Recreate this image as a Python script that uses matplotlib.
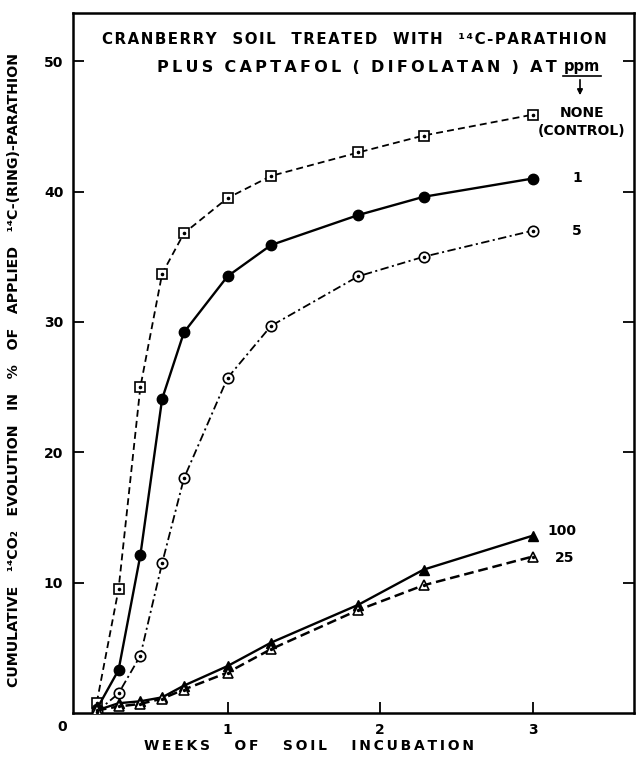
import matplotlib
matplotlib.use("Agg")
import matplotlib.pyplot as plt

plt.rcParams['lines.scale_dashes'] = False
plt.rcParams['font.family'] = ['DejaVu Sans']

# incubation times (weeks) = days / 7
days = [1, 2, 3, 4, 5, 7, 9, 13, 16, 21]
weeks = [d / 7 for d in days]

control = [0.8, 9.5, 25.0, 33.7, 36.8, 39.5, 41.2, 43.0, 44.3, 45.9]
ppm1 = [0.3, 3.3, 12.1, 24.1, 29.2, 33.5, 35.9, 38.2, 39.6, 41.0]
ppm5 = [0.1, 1.5, 4.4, 11.5, 18.0, 25.7, 29.7, 33.5, 35.0, 37.0]
ppm100 = [0.2, 0.75, 0.9, 1.2, 2.1, 3.6, 5.4, 8.3, 11.0, 13.6]
ppm25 = [0.2, 0.5, 0.7, 1.1, 1.8, 3.1, 4.9, 7.9, 9.8, 12.0]

series_labels = ["NONE\n(CONTROL)", "1", "5", "100", "25"]
x_ticks = [1, 2, 3]
y_ticks = [10, 20, 30, 40, 50]

W, H = 636, 758
fig = plt.figure(figsize=(W / 100, H / 100), dpi=100)
ax = fig.add_axes([73/W, 45/H, (634-73)/W, (713-13)/H])
ax.set_xlim(-0.013, 3.665)
ax.set_ylim(0, 53.7)
renderer = fig.canvas.get_renderer()


def fx(px):
    return px / W


def fy(py):
    return 1 - py / H


def spaced(words, letter_sep, word_sep):
    return word_sep.join(letter_sep.join(list(w)) for w in words)


def fit_text(x, y, words, target, size, n_hair=1, gap=2, rotation=0, **kw):
    """Place letter-spaced text, scaling the font so it spans `target` px."""
    s = spaced(words, '\u200a' * n_hair, ' ' * gap)
    t = fig.text(x, y, s, fontsize=size, rotation=rotation, **kw)
    bb = t.get_window_extent(renderer)
    w = bb.height if rotation else bb.width
    t.set_fontsize(size * target / w)
    return t


ms = 6.5
# control: dashed, open square with dot
ax.plot(weeks, control, color='black', lw=1.3, dashes=(5, 3),
        marker='s', ms=ms, mfc='white', mec='black', mew=1.2, zorder=3)
ax.plot(weeks, control, ls='none', marker='o', ms=1.6, color='black', zorder=4)
# 1 ppm: solid, filled circle
ax.plot(weeks, ppm1, color='black', lw=1.7, ls='-',
        marker='o', ms=7.5, mfc='black', mec='black', zorder=3)
# 5 ppm: dash-dot, open circle with dot
ax.plot(weeks, ppm5, color='black', lw=1.3, dashes=(6, 2.5, 1.5, 2.5),
        marker='o', ms=7.5, mfc='white', mec='black', mew=1.2, zorder=3)
ax.plot(weeks, ppm5, ls='none', marker='o', ms=1.6, color='black', zorder=4)
# 100 ppm: solid, filled triangle
ax.plot(weeks, ppm100, color='black', lw=1.7, ls='-',
        marker='^', ms=7.5, mfc='black', mec='black', zorder=3)
# 25 ppm: dashed, open triangle with dot
ax.plot(weeks, ppm25, color='black', lw=1.8, dashes=(7, 3.5),
        marker='^', ms=7, mfc='white', mec='black', mew=1.2, zorder=3)
ax.plot(weeks, ppm25, ls='none', marker='o', ms=1.4, color='black', zorder=4)

for s in ax.spines.values():
    s.set_linewidth(1.8)

ax.set_xticks(x_ticks)
ax.set_xticklabels([str(t) for t in x_ticks], fontsize=10, fontweight='bold')
ax.set_yticks(y_ticks)
ax.set_yticklabels([str(t) for t in y_ticks], fontsize=10, fontweight='bold')
ax.tick_params(axis='both', direction='in', length=8, width=1.3, pad=7)
ax.tick_params(axis='y', right=True, labelright=False)

# corner zero
fig.text(fx(62), fy(727), "0", fontsize=10, fontweight='bold',
         ha='center', va='center')

# title text
fit_text(fx(102), fy(40),
         ["CRANBERRY", "SOIL", "TREATED", "WITH", "¹⁴C-PARATHION"],
         508, 10.5, n_hair=1, gap=3, fontweight='bold', ha='left', va='center')
fit_text(fx(157), fy(67),
         ["PLUS", "CAPTAFOL", "(", "DIFOLATAN", ")", "AT"],
         402, 10.5, n_hair=2, gap=2, fontweight='bold', ha='left', va='center')
fig.text(fx(582), fy(67), "ppm", fontsize=10.5, fontweight='bold',
         ha='center', va='center')
ax.annotate("", xy=(fx(580), fy(98)), xytext=(fx(580), fy(77)),
            xycoords='figure fraction', textcoords='figure fraction',
            arrowprops=dict(arrowstyle='-|>', color='black', lw=1.2,
                            mutation_scale=8))
fig.add_artist(plt.Line2D([fx(563), fx(601)], [fy(76), fy(76)],
                          color='black', lw=1.2))

# series labels
lab_kw = dict(fontsize=10, fontweight='bold', va='center')
fig.text(fx(582), fy(122), series_labels[0], ha='center', linespacing=1.3, **lab_kw)
fig.text(fx(577), fy(178), series_labels[1], ha='center', **lab_kw)
fig.text(fx(577), fy(231), series_labels[2], ha='center', **lab_kw)
fig.text(fx(547), fy(531), series_labels[3], ha='left', **lab_kw)
fig.text(fx(555), fy(558), series_labels[4], ha='left', **lab_kw)

# axis labels
fit_text(fx(144), fy(746), ["WEEKS", "OF", "SOIL", "INCUBATION"],
         332, 10.5, n_hair=2, gap=5, fontweight='bold', ha='left', va='center')
fit_text(fx(14), fy(370),
         ["CUMULATIVE", "¹⁴CO₂", "EVOLUTION", "IN", "%", "OF", "APPLIED",
          "¹⁴C-(RING)-PARATHION"],
         640, 9.5, n_hair=0, gap=3, rotation=90, fontweight='bold',
         ha='center', va='center')

fig.savefig("out.png", dpi=100)
